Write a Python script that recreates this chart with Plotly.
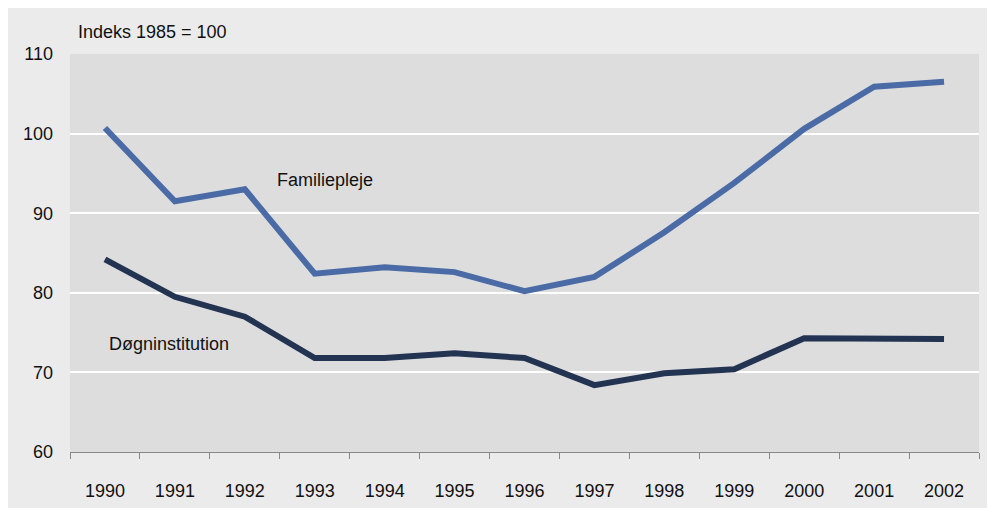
import plotly.graph_objects as go

years = ["1990", "1991", "1992", "1993", "1994", "1995", "1996",
         "1997", "1998", "1999", "2000", "2001", "2002"]
familiepleje = [100.7, 91.5, 93.0, 82.4, 83.2, 82.6, 80.2,
                82.0, 87.6, 93.8, 100.6, 105.9, 106.5]
dognginstitution = [84.2, 79.5, 77.0, 71.8, 71.8, 72.4, 71.8,
                    68.4, 69.9, 70.4, 74.3, 74.3, 74.2]
y_ticks = [60, 70, 80, 90, 100, 110]

FONT = "Liberation Sans"
FS = 18

fig = go.Figure()
fig.add_trace(go.Scatter(x=years, y=familiepleje, mode="lines",
                         line=dict(color="#4a6ba6", width=6), name="Familiepleje"))
fig.add_trace(go.Scatter(x=years, y=dognginstitution, mode="lines",
                         line=dict(color="#233452", width=6), name="Døgninstitution"))

# page is offset by 8px body margin
OFF = 8
W, H = 984, 510
L, R, T, B = 62, 13, 46, 66
pw, ph = W - L - R, H - T - B

def px(x):
    return (x - OFF - L) / pw

def py(y):
    return (H - B - (y - OFF)) / ph

fig.add_annotation(text="Indeks 1985 = 100", xref="paper", yref="paper",
                   x=px(76), y=py(32), xanchor="left", yanchor="middle",
                   showarrow=False, font=dict(size=FS, color="#111111", family=FONT))
fig.add_annotation(text="Familiepleje", xref="paper", yref="paper",
                   x=px(325), y=py(180), xanchor="center", yanchor="middle",
                   showarrow=False, font=dict(size=FS, color="#111111", family=FONT))
fig.add_annotation(text="Døgninstitution", xref="paper", yref="paper",
                   x=px(169), y=py(344), xanchor="center", yanchor="middle",
                   showarrow=False, font=dict(size=FS, color="#111111", family=FONT))

fig.update_layout(
    width=W, height=H,
    margin=dict(l=L, r=R, t=T, b=B),
    paper_bgcolor="#ebebeb",
    plot_bgcolor="#dddddd",
    showlegend=False,
    font=dict(family=FONT, size=FS, color="#111111"),
    xaxis=dict(type="category", tickson="boundaries", ticks="outside",
               ticklen=6, tickcolor="#888888", showline=True,
               linecolor="#888888", linewidth=1, showgrid=False,
               ticklabelstandoff=22, range=[-0.5, 12.5]),
    yaxis=dict(range=[60, 110], tickvals=y_ticks, showgrid=True,
               gridcolor="white", gridwidth=2, zeroline=False,
               showline=False, ticks="", ticklabelstandoff=16),
)

fig.write_html("out.html")
